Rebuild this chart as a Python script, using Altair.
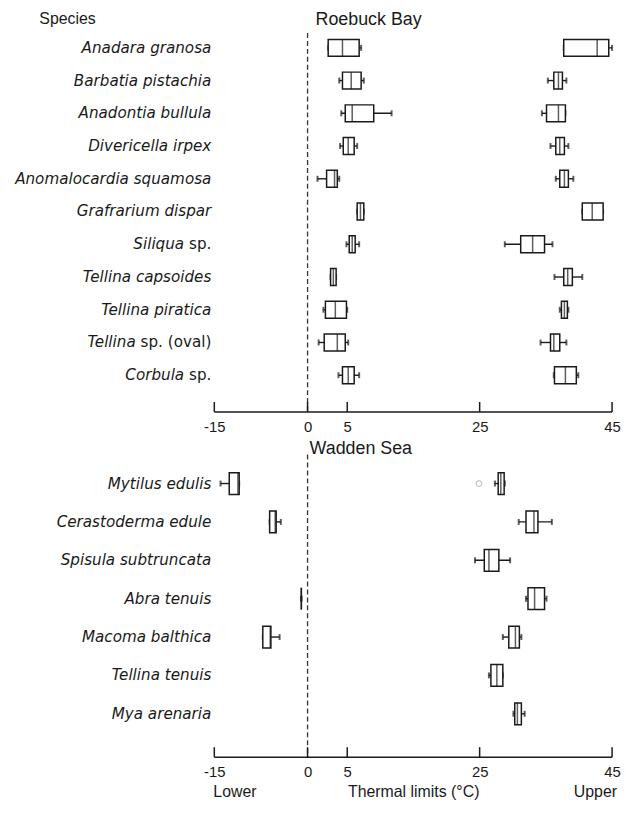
import altair as alt
import pandas as pd

# ---------------- data ----------------
TICKS = [-15, 0, 5, 25, 45]

# Roebuck Bay (lower and upper thermal limits; min, q1, median, q3, max)
RB_ITALIC = ["Anadara granosa", "Barbatia pistachia", "Anadontia bullula", "Divericella irpex",
             "Anomalocardia squamosa", "Grafrarium dispar", "Siliqua", "Tellina capsoides",
             "Tellina piratica", "Tellina", "Corbula"]
RB_SUFFIX = ["", "", "", "", "", "", " sp.", "", "", " sp. (oval)", " sp."]
RB_LOWER_MIN = [2.6, 4.0, 4.25, 4.1, 1.25, 6.5, 4.9, 2.9, 2.0, 1.4, 3.9]
RB_LOWER_Q1 = [2.6, 4.4, 4.75, 4.5, 2.4, 6.5, 5.3, 2.9, 2.25, 2.1, 4.4]
RB_LOWER_MED = [4.4, 5.6, 5.75, 5.15, 3.4, 7.0, 5.75, 3.25, 3.5, 3.75, 5.15]
RB_LOWER_Q3 = [6.8, 7.1, 9.0, 6.05, 3.75, 7.5, 6.2, 3.6, 4.9, 4.75, 6.05]
RB_LOWER_MAX = [7.1, 7.5, 11.7, 6.5, 4.0, 7.5, 6.8, 3.6, 5.0, 5.15, 6.8]
RB_UPPER_MIN = [37.7, 35.3, 34.4, 35.7, 36.5, 40.5, 28.8, 36.3, 37.1, 34.2, 36.2]
RB_UPPER_Q1 = [37.7, 36.2, 35.1, 36.5, 37.1, 40.5, 31.2, 37.7, 37.35, 35.7, 36.3]
RB_UPPER_MED = [42.75, 36.9, 36.9, 37.1, 37.8, 42.0, 33.0, 38.3, 37.8, 36.2, 37.95]
RB_UPPER_Q3 = [44.5, 37.5, 37.95, 37.8, 38.4, 43.65, 34.8, 39.0, 38.25, 37.1, 39.6]
RB_UPPER_MAX = [45.0, 38.1, 37.95, 38.4, 39.15, 43.65, 36.0, 40.5, 38.4, 38.1, 39.9]

# Wadden Sea
WS_ITALIC = ["Mytilus edulis", "Cerastoderma edule", "Spisula subtruncata", "Abra tenuis",
             "Macoma balthica", "Tellina tenuis", "Mya arenaria"]
WS_SUFFIX = ["", "", "", "", "", "", ""]
WS_LOWER_MIN = [-14.0, -6.1, None, -1.0, -7.2, None, None]
WS_LOWER_Q1 = [-12.6, -6.1, None, -1.0, -7.2, None, None]
WS_LOWER_MED = [-11.2, -5.2, None, -1.0, -6.0, None, None]
WS_LOWER_Q3 = [-11.0, -5.05, None, -1.0, -5.9, None, None]
WS_LOWER_MAX = [-11.0, -4.3, None, -1.0, -4.5, None, None]
WS_UPPER_MIN = [27.3, 30.9, 24.3, 32.0, 28.5, 26.4, 30.1]
WS_UPPER_Q1 = [27.8, 32.0, 25.7, 32.3, 29.4, 26.7, 30.3]
WS_UPPER_MED = [28.2, 33.2, 26.4, 33.3, 30.4, 27.6, 30.7]
WS_UPPER_Q3 = [28.7, 33.8, 27.9, 34.8, 31.0, 28.5, 31.3]
WS_UPPER_MAX = [28.8, 35.9, 29.6, 35.1, 31.3, 28.5, 31.8]
WS_OUTLIER_ROW = [0]
WS_OUTLIER_VALUE = [24.9]

# ---------------- styling ----------------
INK = "#1a1a1a"
NUM_FONT = "Liberation Sans"
SP_FONT = "DejaVu Sans"
SP_SIZE = 15.3
# DejaVu Sans advance widths (em) used to offset italic part before a roman suffix
DJV = {" ": .318, "s": .521, "p": .635, ".": .318, "(": .390, "o": .612, "v": .592,
       "a": .613, "l": .278, ")": .390}


def suffix_width(s):
    return sum(DJV.get(c, .6) for c in s) * SP_SIZE


XSCALE = alt.Scale(domain=[-15, 0, 5, 45], range=[0, 94, 134, 401], nice=False, zero=False)
PLOT_W = 401


def make_panel(italic, suffix, lo, up, ydomain, H, box_h, title, title_x, title_y,
               title_align, axis_title, outliers=None, extra=None):
    rows = []
    for i, (it, sf) in enumerate(zip(italic, suffix)):
        rows.append({"idx": i, "italic": it, "suffix": sf})
    labels = pd.DataFrame(rows)
    boxes = []
    for kind, stats in (("lower", lo), ("upper", up)):
        mn, q1, md, q3, mx = stats
        for i in range(len(italic)):
            if mn[i] is None:
                continue
            boxes.append({"idx": i, "kind": kind, "mn": mn[i], "q1": q1[i], "md": md[i],
                          "q3": q3[i], "mx": mx[i]})
    bx = pd.DataFrame(boxes)

    yscale = alt.Scale(domain=ydomain, reverse=True, nice=False, zero=False)
    Y = alt.Y("idx:Q", scale=yscale, axis=None)
    ax = alt.Axis(values=TICKS, domain=False, ticks=False, grid=False, labelFont=NUM_FONT,
                  labelFontSize=15, labelColor=INK, labelPadding=8, labelFlush=False,
                  labelOverlap=False, labelExpr="toString(datum.value)",
                  titleFont=NUM_FONT, titleFontSize=16,
                  titleFontWeight="normal", titleColor=INK, titlePadding=4)

    def X(field):
        return alt.X(f"{field}:Q", scale=XSCALE, axis=ax, title=axis_title)

    base = alt.Chart(bx)
    whisk = base.mark_rule(color=INK, strokeWidth=1.4).encode(x=X("mn"), x2="mx", y=Y)
    cap_lo = base.mark_tick(orient="vertical", size=6, thickness=2, color=INK).encode(x=X("mn"), y=Y)
    cap_hi = base.mark_tick(orient="vertical", size=6, thickness=2, color=INK).encode(x=X("mx"), y=Y)
    box = base.mark_bar(size=box_h, fill="white", stroke=INK, strokeWidth=1.5).encode(
        x=X("q1"), x2="q3", y=Y)
    med = base.mark_tick(orient="vertical", size=box_h, thickness=1.5, color=INK).encode(x=X("md"), y=Y)

    zero = alt.Chart(pd.DataFrame({"v": [0]})).mark_rule(
        strokeDash=[5, 3], color="#333", strokeWidth=1.3).encode(x=X("v"))
    baseline = alt.Chart(pd.DataFrame({"a": [TICKS[0]], "b": [TICKS[-1]]})).mark_rule(
        color=INK, strokeWidth=1.5).encode(x=X("a"), x2="b", y=alt.value(H))
    tks = alt.Chart(pd.DataFrame({"v": TICKS})).mark_rule(color=INK, strokeWidth=1.5).encode(
        x=X("v"), y=alt.value(H - 10), y2=alt.value(H))

    layers = [zero, baseline, tks, whisk, cap_lo, cap_hi, box, med]

    if outliers is not None:
        od = pd.DataFrame({"idx": outliers[0], "v": outliers[1]})
        layers.append(alt.Chart(od).mark_point(shape="circle", filled=False, color="#999",
                                               size=34, strokeWidth=1).encode(x=X("v"), y=Y))

    # species labels: italic part, then roman suffix
    lab = alt.Chart(labels)
    for sf in sorted(set(suffix)):
        w = suffix_width(sf) if sf else 0
        layers.append(lab.transform_filter(alt.datum.suffix == sf).mark_text(
            align="right", baseline="middle", font=SP_FONT, fontSize=SP_SIZE, fontStyle="italic",
            color=INK, dx=-w).encode(x=alt.value(-3), y=Y, text="italic:N"))
        if sf:
            layers.append(lab.transform_filter(alt.datum.suffix == sf).mark_text(
                align="right", baseline="middle", font=SP_FONT, fontSize=SP_SIZE,
                color=INK).encode(x=alt.value(-3), y=Y, text="suffix:N"))

    tdf = pd.DataFrame({"t": [title]})
    layers.append(alt.Chart(tdf).mark_text(align=title_align, baseline="alphabetic",
                                           font=NUM_FONT, fontSize=18, color=INK).encode(
        x=alt.value(title_x), y=alt.value(title_y), text="t:N"))
    if extra:
        layers.extend(extra)

    return alt.layer(*layers).properties(width=PLOT_W, height=H)


H1 = 382
H2 = 305

anchor = alt.Chart(pd.DataFrame({"a": [0]})).mark_rule(opacity=0, strokeWidth=1).encode(
    x=alt.value(-208), y=alt.value(-22), y2=alt.value(-21))
species_hdr = alt.Chart(pd.DataFrame({"t": ["Species"]})).mark_text(
    align="center", baseline="middle", font=NUM_FONT, fontSize=16, color=INK).encode(
    x=alt.value(-148), y=alt.value(-14), text="t:N")

top = make_panel(RB_ITALIC, RB_SUFFIX,
                 (RB_LOWER_MIN, RB_LOWER_Q1, RB_LOWER_MED, RB_LOWER_Q3, RB_LOWER_MAX),
                 (RB_UPPER_MIN, RB_UPPER_Q1, RB_UPPER_MED, RB_UPPER_Q3, RB_UPPER_MAX),
                 [-0.3, 10.97], H1, 17, "Roebuck Bay", 155.5, -8, "center", None,
                 extra=[anchor, species_hdr])

lower_upper = [
    alt.Chart(pd.DataFrame({"t": ["Lower"]})).mark_text(
        align="left", baseline="middle", font=NUM_FONT, fontSize=16, color=INK).encode(
        x=alt.value(-1), y=alt.value(H2 + 35), text="t:N"),
    alt.Chart(pd.DataFrame({"t": ["Upper"]})).mark_text(
        align="right", baseline="middle", font=NUM_FONT, fontSize=16, color=INK).encode(
        x=alt.value(406), y=alt.value(H2 + 35), text="t:N"),
]

bottom = make_panel(WS_ITALIC, WS_SUFFIX,
                    (WS_LOWER_MIN, WS_LOWER_Q1, WS_LOWER_MED, WS_LOWER_Q3, WS_LOWER_MAX),
                    (WS_UPPER_MIN, WS_UPPER_Q1, WS_UPPER_MED, WS_UPPER_Q3, WS_UPPER_MAX),
                    [-0.625, 7.0], H2, 22, "Wadden Sea", 96, -1, "left", "Thermal limits (°C)",
                    outliers=(WS_OUTLIER_ROW, WS_OUTLIER_VALUE), extra=lower_upper)

chart = alt.vconcat(top, bottom, spacing=43, bounds="flush").properties(
    padding=0, background="white").configure_view(stroke=None)

chart.save("out.html", embed_options={"renderer": "svg", "actions": False})
